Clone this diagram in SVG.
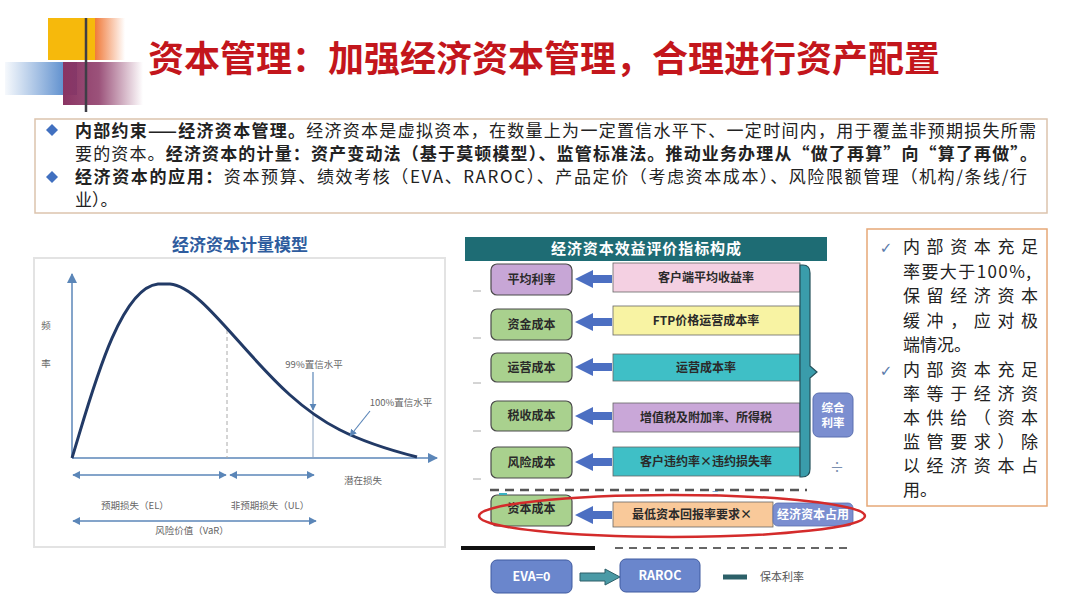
<svg xmlns="http://www.w3.org/2000/svg" width="1080" height="608" viewBox="0 0 1080 608">
<style>
.cjk{font-family:"Noto Sans CJK SC","Liberation Sans",sans-serif}
.t1{font-size:17px;fill:#222}
.b{font-weight:bold}
.sm{font-size:9.5px;fill:#666}
.lbl{font-size:12px;font-weight:bold;fill:#2a2a2a;text-anchor:middle}
.lbox{stroke:#4a4a4a;stroke-width:1.2}
.wbox{stroke:#666;stroke-width:0.8}
.rt{font-size:17px;fill:#222}
.axis{stroke:#5b86b8;stroke-width:1.5;fill:none}
.dbl{stroke:#5b86b8;stroke-width:1.3;fill:none}
</style>
<defs>
<linearGradient id="gOr" x1="0" y1="0" x2="1" y2="0"><stop offset="0" stop-color="#f07a3a"/><stop offset="1" stop-color="#f07a3a" stop-opacity="0"/></linearGradient>
<linearGradient id="gBl" x1="0" y1="0" x2="1" y2="0"><stop offset="0" stop-color="#4a82c8" stop-opacity="0.05"/><stop offset="1" stop-color="#3d78c4"/></linearGradient>
<linearGradient id="gPu" x1="0" y1="0" x2="1" y2="0"><stop offset="0" stop-color="#8a3463"/><stop offset="0.45" stop-color="#8a3463" stop-opacity="0.85"/><stop offset="1" stop-color="#8a3463" stop-opacity="0"/></linearGradient>
<linearGradient id="gLn" x1="0" y1="0" x2="1" y2="0"><stop offset="0" stop-color="#3a4a60"/><stop offset="0.6" stop-color="#7090b0"/><stop offset="1" stop-color="#a0b8d0" stop-opacity="0.2"/></linearGradient>
<marker id="ah" viewBox="0 0 10 10" refX="9" refY="5" markerWidth="6" markerHeight="6" orient="auto-start-reverse"><path d="M0,0 L10,5 L0,10 Z" fill="#5b86b8"/></marker>
<marker id="ah2" viewBox="0 0 10 10" refX="9" refY="5" markerWidth="7" markerHeight="7" orient="auto"><path d="M0,0 L10,5 L0,10 Z" fill="#5b86b8"/></marker>
<path id="barrow" d="M575,0 L593,-9 L593,-4 L612,-4 L612,4 L593,4 L593,9 Z" fill="#4c6fc2"/>
</defs>
<rect width="1080" height="608" fill="#ffffff"/>

<!-- header decoration -->
<g id="logo">
<rect x="48" y="18" width="47" height="42" fill="#f6b90c"/>
<rect x="95" y="18" width="30" height="42" fill="url(#gOr)"/>
<rect x="5" y="62" width="72" height="33" fill="url(#gBl)"/>
<rect x="63" y="62" width="80" height="43" fill="url(#gPu)"/>
<line x1="86" y1="18" x2="86" y2="112" stroke="#3e3e46" stroke-width="2.5"/>
<line x1="52" y1="90" x2="1065" y2="90" stroke="url(#gLn)" stroke-width="2"/>
</g>
<text id="title" class="cjk b" x="148" y="72" font-size="36" fill="#c3161c" textLength="792" lengthAdjust="spacing">资本管理：加强经济资本管理，合理进行资产配置</text>

<!-- top text box -->
<g id="intro">
<rect x="35" y="119" width="1012" height="94" fill="#fff" stroke="#dcc3ad" stroke-width="1.5"/>
<path d="M52,124 L58,130 L52,136 L46,130 Z" fill="#4170c0"/>
<path d="M52,171 L58,177 L52,183 L46,177 Z" fill="#4170c0"/>
<text class="cjk t1" x="75" y="137" textLength="961" lengthAdjust="spacing"><tspan class="b">内部约束——经济资本管理。</tspan>经济资本是虚拟资本，在数量上为一定置信水平下、一定时间内，用于覆盖非预期损失所需</text>
<text class="cjk t1" x="75" y="160" textLength="962" lengthAdjust="spacing">要的资本。<tspan class="b">经济资本的计量：资产变动法（基于莫顿模型）、监管标准法。推动业务办理从“做了再算”向“算了再做”。</tspan></text>
<text class="cjk t1" x="75" y="183" textLength="952" lengthAdjust="spacing"><tspan class="b">经济资本的应用：</tspan>资本预算、绩效考核（EVA、RAROC）、产品定价（考虑资本成本）、风险限额管理（机构/条线/行</text>
<text class="cjk t1" x="75" y="206">业）。</text>
</g>

<!-- left chart -->
<g id="chart">
<text class="cjk b" x="240" y="251" font-size="17" fill="#2e5c9e" text-anchor="middle">经济资本计量模型</text>
<rect x="34" y="258" width="411" height="289" fill="#fff" stroke="#e3e3e3" stroke-width="2"/>
<line class="axis" x1="72" y1="458" x2="72" y2="274" marker-end="url(#ah2)"/>
<line class="axis" x1="72" y1="458" x2="437" y2="458" marker-end="url(#ah2)"/>
<line x1="227" y1="330" x2="227" y2="458" stroke="#aaa" stroke-width="1" stroke-dasharray="4 3"/>
<line x1="313" y1="414" x2="313" y2="458" stroke="#8aa2c0" stroke-width="1"/>
<path d="M72,458 C90,400 118,288 158,284 L170,284 C200,286 240,350 290,395 C320,422 350,440 417,457" fill="none" stroke="#223a66" stroke-width="3"/>
<text class="cjk sm" x="46" y="329" text-anchor="middle" font-size="10">频</text>
<text class="cjk sm" x="46" y="367" text-anchor="middle" font-size="10">率</text>
<text class="cjk sm" x="314" y="368" text-anchor="middle">99%置信水平</text>
<line x1="313" y1="372" x2="313" y2="410" stroke="#5b86b8" stroke-width="1.2" marker-end="url(#ah)"/>
<text class="cjk sm" x="401" y="406" text-anchor="middle">100%置信水平</text>
<line x1="370" y1="411" x2="350" y2="436" stroke="#5b86b8" stroke-width="1.2" marker-end="url(#ah)"/>
<line class="dbl" x1="73" y1="475" x2="226" y2="475" marker-start="url(#ah)" marker-end="url(#ah)"/>
<line class="dbl" x1="230" y1="475" x2="314" y2="475" marker-start="url(#ah)" marker-end="url(#ah)"/>
<line class="dbl" x1="73" y1="521" x2="316" y2="521" marker-start="url(#ah)" marker-end="url(#ah)"/>
<text class="cjk sm" x="363" y="484" text-anchor="middle">潜在损失</text>
<text class="cjk sm" x="135" y="509" text-anchor="middle">预期损失（EL）</text>
<text class="cjk sm" x="270" y="509" text-anchor="middle">非预期损失（UL）</text>
<text class="cjk sm" x="192" y="534" text-anchor="middle">风险价值（VaR）</text>
</g>

<!-- middle diagram -->
<g id="header">
<rect x="465" y="237" width="362" height="24" fill="#1e6c74"/>
<text class="cjk b" x="646" y="254" font-size="15" fill="#fff" text-anchor="middle" textLength="190" lengthAdjust="spacing">经济资本效益评价指标构成</text>
</g>
<g id="ticks" stroke="#aaa" stroke-width="1">
<line x1="473" y1="291" x2="481" y2="291"/>
<line x1="473" y1="338" x2="481" y2="338"/>
<line x1="473" y1="383" x2="481" y2="383"/>
<line x1="473" y1="431" x2="481" y2="431"/>
<line x1="473" y1="479" x2="481" y2="479"/>
</g>
<g id="row1"><rect class="lbox" x="491" y="264" width="81" height="31" rx="6" fill="#c7a6d6"/><text class="cjk lbl" x="531.5" y="284">平均利率</text>
<rect class="wbox" x="613" y="263" width="187" height="29" fill="#f4d0e2"/><text class="cjk lbl" x="706" y="282">客户端平均收益率</text></g>
<g id="row2"><rect class="lbox" x="491" y="309" width="81" height="31" rx="6" fill="#a9d18e"/><text class="cjk lbl" x="531.5" y="329">资金成本</text>
<rect class="wbox" x="613" y="306" width="187" height="29" fill="#f8f3a3"/><text class="cjk lbl" x="706" y="325">FTP价格运营成本率</text></g>
<g id="row3"><rect class="lbox" x="491" y="353" width="81" height="29" rx="6" fill="#a9d18e"/><text class="cjk lbl" x="531.5" y="372">运营成本</text>
<rect class="wbox" x="613" y="354" width="187" height="27" fill="#3fbfc6"/><text class="cjk lbl" x="706" y="372">运营成本率</text></g>
<g id="row4"><rect class="lbox" x="491" y="401" width="81" height="30" rx="6" fill="#a9d18e"/><text class="cjk lbl" x="531.5" y="420">税收成本</text>
<rect class="wbox" x="613" y="403" width="187" height="29" fill="#c9a7d8"/><text class="cjk lbl" x="706" y="422">增值税及附加率、所得税</text></g>
<g id="row5"><rect class="lbox" x="491" y="447" width="81" height="31" rx="6" fill="#a9d18e"/><text class="cjk lbl" x="531.5" y="467">风险成本</text>
<rect class="wbox" x="613" y="447" width="187" height="29" fill="#3fbfc6"/><text class="cjk lbl" x="706" y="466">客户违约率×违约损失率</text></g>
<g id="row6"><rect class="lbox" x="491" y="495" width="81" height="31" rx="6" fill="#a9d18e"/><text class="cjk lbl" x="531.5" y="513">资本成本</text>
<rect class="wbox" x="613" y="502" width="160" height="25" fill="#f9c99a"/><text class="cjk lbl" x="692" y="519">最低资本回报率要求×</text>
<rect x="773" y="503" width="80" height="23" rx="5" fill="#7b8ed0" stroke="#5a6fb0" stroke-width="0.8"/><text class="cjk lbl" x="813" y="519" style="fill:#fff" font-size="11.5">经济资本占用</text></g>
<g id="connectors">
<use href="#barrow" transform="translate(0,279)"/>
<use href="#barrow" transform="translate(0,322)"/>
<use href="#barrow" transform="translate(0,367)"/>
<use href="#barrow" transform="translate(0,416)"/>
<use href="#barrow" transform="translate(0,462)"/>
<use href="#barrow" transform="translate(0,515)"/>
<path d="M580,573 L605,573 L605,569 L620,577 L605,585 L605,581 L580,581 Z" fill="#4a9aa6" stroke="#2c5f68" stroke-width="1"/>
</g>
<g id="brace">
<path d="M800,265 L803,265 Q810,265 810,273 L810,366 L817,372 L810,378 L810,469 Q810,477 802,477 L800,477 Z" fill="#3a9cab" stroke="#24505a" stroke-width="1.2"/>
</g>
<g id="zonghe">
<rect x="813" y="393" width="40" height="44" rx="6" fill="#7b8ed0" stroke="#5a6fb0" stroke-width="1"/>
<text class="cjk b" x="833" y="412" font-size="11.5" fill="#fff" text-anchor="middle">综合</text>
<text class="cjk b" x="833" y="427" font-size="11.5" fill="#fff" text-anchor="middle">利率</text>
</g>
<text class="cjk" x="837" y="472" font-size="14" fill="#7a8fb0" text-anchor="middle">÷</text>
<line x1="490" y1="490" x2="807" y2="490" stroke="#555" stroke-width="2.5" stroke-dasharray="9 6"/>
<text class="cjk" x="715" y="497" font-size="11" fill="#6a9ad0" text-anchor="middle">=</text>
<line x1="499" y1="494" x2="507" y2="494" stroke="#3ab0c0" stroke-width="2"/>
<ellipse cx="672" cy="516" rx="193" ry="21" fill="none" stroke="#d42b2b" stroke-width="2.5"/>
<line x1="461" y1="548" x2="595" y2="548" stroke="#111" stroke-width="4"/>
<line x1="615" y1="548" x2="852" y2="548" stroke="#666" stroke-width="2" stroke-dasharray="8 6"/>
<g id="eva"><rect x="491" y="560" width="81" height="33" rx="6" fill="#6a86cc" stroke="#3f5aa0" stroke-width="1"/><text class="cjk b" x="531.5" y="581" font-size="12.5" fill="#fff" text-anchor="middle">EVA=0</text></g>
<g id="raroc"><rect x="620" y="559" width="80" height="33" rx="6" fill="#6a86cc" stroke="#3f5aa0" stroke-width="1"/><text class="cjk b" x="660" y="580" font-size="12.5" fill="#fff" text-anchor="middle">RAROC</text></g>
<line x1="723" y1="577" x2="747" y2="577" stroke="#2c6068" stroke-width="5"/>
<text class="cjk" x="760" y="581" font-size="11" fill="#555">保本利率</text>

<!-- right note box -->
<g id="notes">
<rect x="867" y="229" width="180" height="277" fill="#fff" stroke="#e6a877" stroke-width="1.5"/>
<text x="886" y="253" font-family="DejaVu Sans" font-size="15" fill="#5a7aaa" text-anchor="middle">✓</text>
<text x="886" y="376" font-family="DejaVu Sans" font-size="15" fill="#5a7aaa" text-anchor="middle">✓</text>
<text class="cjk rt" x="903" y="253" textLength="135" lengthAdjust="spacing">内部资本充足</text>
<text class="cjk rt" x="903" y="278" textLength="128" lengthAdjust="spacing">率要大于100%,</text>
<text class="cjk rt" x="903" y="302" textLength="135" lengthAdjust="spacing">保留经济资本</text>
<text class="cjk rt" x="903" y="327" textLength="135" lengthAdjust="spacing">缓冲，应对极</text>
<text class="cjk rt" x="903" y="351">端情况。</text>
<text class="cjk rt" x="903" y="376" textLength="135" lengthAdjust="spacing">内部资本充足</text>
<text class="cjk rt" x="903" y="400" textLength="135" lengthAdjust="spacing">率等于经济资</text>
<text class="cjk rt" x="903" y="424" textLength="135" lengthAdjust="spacing">本供给（资本</text>
<text class="cjk rt" x="903" y="448" textLength="135" lengthAdjust="spacing">监管要求）除</text>
<text class="cjk rt" x="903" y="472" textLength="135" lengthAdjust="spacing">以经济资本占</text>
<text class="cjk rt" x="903" y="496">用。</text>
</g>
</svg>
